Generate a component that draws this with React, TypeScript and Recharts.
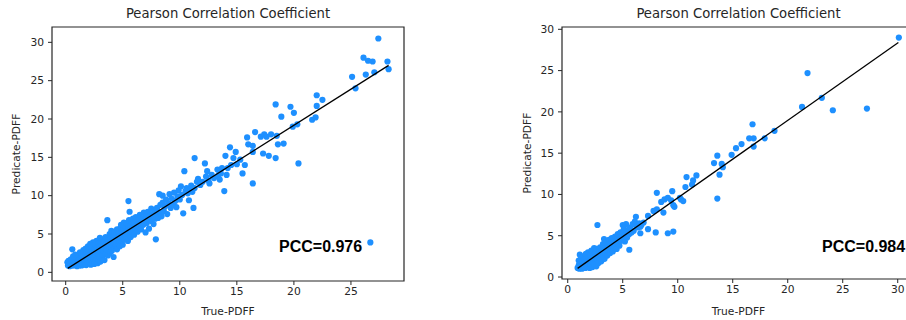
import { ScatterChart, Scatter, XAxis, YAxis, ReferenceArea } from 'recharts'

// left panel: [True-PDFF, Predicate-PDFF]
const leftPoints: [number, number][] = [
  [0.2, 0.9], [0.3, 1.2], [0.35, 0.8], [0.4, 1.0], [0.5, 1.3], [0.55, 0.9], [0.6, 1.1], [0.58, 3.0],
  [0.7, 1.5], [0.7, 0.9], [0.8, 1.2], [0.8, 1.8], [0.9, 1.0], [0.9, 1.4], [1.0, 2.0], [1.0, 1.2],
  [1.0, 0.8], [0.15, 1.3], [0.25, 1.5], [0.45, 1.7], [0.65, 2.1], [0.85, 2.3],
  [1.1, 1.5], [1.1, 1.0], [1.15, 2.2], [1.2, 0.9], [1.2, 1.7], [1.25, 2.6], [1.3, 1.2], [1.35, 1.9],
  [1.4, 0.9], [1.4, 2.4], [1.45, 1.4], [1.5, 1.1], [1.5, 2.0], [1.55, 2.9], [1.6, 1.6], [1.65, 1.0],
  [1.7, 2.3], [1.7, 1.3], [1.75, 3.1], [1.8, 1.8], [1.8, 0.95], [1.85, 2.6], [1.9, 1.4], [1.9, 2.1],
  [1.95, 3.4], [2.0, 1.1], [2.0, 1.7], [2.0, 2.5],
  [2.05, 3.0], [2.1, 1.3], [2.1, 2.0], [2.15, 3.7], [2.2, 2.4], [2.2, 1.0], [2.25, 1.6], [2.3, 2.8],
  [2.3, 3.3], [2.35, 1.2], [2.4, 2.1], [2.4, 3.9], [2.45, 1.7], [2.5, 2.6], [2.5, 1.1], [2.55, 3.0],
  [2.6, 2.2], [2.6, 3.6], [2.65, 1.5], [2.7, 2.8], [2.7, 4.1], [2.75, 1.9], [2.8, 3.3], [2.8, 1.2],
  [2.85, 2.4], [2.9, 3.8], [2.9, 1.6], [2.95, 2.9], [3.0, 2.0], [3.0, 3.4], [3.0, 4.5],
  [3.05, 1.4], [3.1, 2.6], [3.1, 3.9], [3.15, 3.0], [3.2, 1.8], [3.2, 4.3], [3.25, 2.3], [3.3, 3.5],
  [3.35, 2.8], [3.4, 4.0], [3.4, 1.6], [3.45, 3.1], [3.5, 2.4], [3.5, 4.6], [3.55, 3.7], [3.6, 2.9],
  [3.65, 6.8], [3.7, 3.4], [3.7, 2.2], [3.75, 4.2], [3.8, 3.0], [3.85, 5.0], [3.9, 3.7], [3.9, 2.6],
  [3.95, 4.4], [4.0, 3.3], [4.0, 5.4],
  [4.05, 2.8], [4.1, 4.0], [4.15, 3.6], [4.2, 2.0], [4.2, 4.7], [4.25, 3.2], [4.3, 5.3], [4.35, 4.2],
  [4.4, 3.5], [4.45, 4.9], [4.5, 3.0], [4.5, 5.6], [4.55, 4.4], [4.6, 3.8], [4.65, 5.1], [4.7, 4.1],
  [4.75, 3.4], [4.8, 5.8], [4.8, 4.6], [4.85, 6.2], [4.9, 4.0], [4.95, 5.3], [5.0, 4.7], [5.0, 3.6],
  [5.05, 5.5], [5.1, 6.5], [5.15, 4.3], [5.2, 5.0], [5.25, 5.9], [5.3, 4.6], [5.35, 6.3], [5.4, 5.3],
  [5.45, 4.1], [5.5, 9.3], [5.5, 5.8], [5.55, 6.8], [5.6, 5.0], [5.6, 7.9], [5.65, 6.1], [5.7, 4.6],
  [5.75, 5.6], [5.8, 6.6], [5.85, 5.2], [5.9, 7.0], [5.95, 6.0], [6.0, 4.9], [6.0, 6.4],
  [6.1, 5.6], [6.15, 7.2], [6.2, 6.1], [6.3, 5.3], [6.35, 6.8], [6.4, 5.9], [6.5, 7.5], [6.5, 6.3],
  [6.6, 5.6], [6.7, 7.0], [6.8, 6.2], [6.85, 7.8], [6.9, 6.7], [7.0, 5.2], [7.0, 7.3],
  [7.1, 6.4], [7.2, 7.9], [7.25, 6.9], [7.3, 5.7], [7.4, 7.3], [7.5, 8.3], [7.5, 6.7], [7.6, 7.6],
  [7.7, 6.3], [7.8, 8.1], [7.85, 7.0], [7.9, 4.3], [7.9, 7.5], [8.0, 8.4],
  [8.1, 7.1], [8.2, 10.2], [8.25, 7.8], [8.3, 8.8], [8.4, 7.3], [8.5, 9.1], [8.5, 10.0], [8.6, 8.0],
  [8.7, 8.6], [8.8, 9.5], [8.9, 7.6], [9.0, 9.0], [9.1, 10.2], [9.2, 8.4], [9.3, 9.6], [9.4, 8.8],
  [9.5, 10.4], [9.6, 9.3], [9.7, 8.5], [9.8, 9.9], [9.9, 10.7], [10.0, 9.5], [10.1, 11.2], [10.2, 10.1],
  [10.3, 7.7], [10.4, 13.2],
  [10.5, 10.6], [10.6, 11.0], [10.7, 10.3], [10.8, 9.4], [10.9, 10.9], [11.0, 11.3], [11.1, 10.5],
  [11.2, 8.4], [11.3, 11.0], [11.3, 14.9], [11.5, 11.8], [11.6, 12.2], [11.8, 11.4], [12.0, 11.8],
  [12.2, 14.2], [12.3, 12.5], [12.4, 13.2], [12.5, 12.0], [12.6, 11.6], [12.8, 12.7],
  [13.0, 12.3], [13.3, 13.4], [13.35, 12.6], [13.5, 13.1], [13.6, 12.9], [13.5, 12.1], [13.7, 13.6],
  [13.9, 10.6], [14.0, 15.2], [14.1, 12.7], [14.2, 13.6], [14.4, 16.3], [14.5, 14.0], [14.7, 14.9],
  [14.9, 15.7], [15.0, 14.1], [15.3, 14.7], [15.5, 12.9], [15.7, 14.0],
  [15.9, 17.6], [16.0, 16.7], [16.4, 16.5], [16.4, 15.7], [16.4, 11.6], [16.6, 18.3], [17.1, 17.7],
  [17.3, 15.5], [17.4, 18.0], [17.6, 17.7], [17.8, 15.2], [18.0, 18.0], [18.4, 14.9], [18.4, 21.9],
  [18.5, 17.8], [18.6, 16.7], [18.9, 20.3], [19.1, 16.8], [19.7, 21.6], [19.9, 19.0], [20.0, 20.8],
  [20.3, 19.3], [20.4, 14.2], [21.6, 19.9], [21.9, 20.2], [22.0, 21.7], [22.0, 23.1], [22.5, 22.5],
  [25.1, 25.5], [25.4, 24.0], [26.1, 28.0], [26.3, 25.8], [26.5, 27.6], [26.7, 3.9], [26.9, 27.5],
  [27.05, 26.1], [27.4, 30.5], [28.2, 27.5], [28.3, 26.5],
]

// right panel: [True-PDFF, Predicate-PDFF]
const rightPoints: [number, number][] = [
  [0.9, 1.1], [1.0, 1.4], [1.0, 2.0], [1.05, 1.0], [1.1, 1.7], [1.1, 2.7], [1.15, 1.2], [1.2, 2.2],
  [1.25, 1.5], [1.3, 1.0], [1.35, 1.9], [1.4, 2.5], [1.45, 1.3], [1.5, 1.7], [1.55, 2.2], [1.6, 1.1],
  [1.65, 2.8], [1.7, 1.5], [1.75, 2.0], [1.8, 1.2], [1.85, 3.0], [1.9, 2.4], [1.95, 1.6], [2.0, 1.1],
  [2.0, 2.0], [2.05, 2.7], [2.1, 1.4], [2.15, 3.2], [2.2, 2.2], [2.25, 1.2], [2.3, 1.8], [2.35, 2.6],
  [2.4, 3.5], [2.45, 1.5], [2.5, 2.3], [2.55, 2.9], [2.6, 1.3], [2.65, 3.4], [2.7, 2.0], [2.7, 6.3],
  [2.75, 2.6], [2.8, 1.7], [2.85, 3.1], [2.9, 2.3], [2.95, 3.6], [3.0, 2.8], [3.05, 1.9], [3.1, 3.3],
  [3.15, 2.5], [3.2, 4.0], [3.25, 3.0], [3.3, 4.6], [3.35, 2.2], [3.4, 3.5], [3.45, 2.8], [3.5, 4.2],
  [3.55, 3.3], [3.6, 2.6], [3.65, 3.9], [3.7, 3.1], [3.75, 4.5], [3.8, 3.6], [3.85, 2.9], [3.9, 4.1],
  [3.95, 3.4], [4.0, 4.7], [4.05, 3.8], [4.1, 3.1], [4.2, 4.3], [4.25, 3.6], [4.3, 4.9], [4.4, 4.0],
  [4.45, 3.4], [4.5, 4.6], [4.55, 5.2], [4.6, 4.2], [4.7, 3.8], [4.75, 4.8], [4.8, 5.4], [4.85, 4.4],
  [4.9, 4.9], [5.0, 6.3], [5.0, 5.3], [5.05, 4.6], [5.1, 5.8], [5.15, 4.9], [5.2, 4.3], [5.3, 6.4],
  [5.3, 5.3], [5.4, 4.8], [5.5, 5.7], [5.6, 3.3], [5.6, 5.2], [5.7, 6.0], [5.8, 5.4], [5.9, 6.4],
  [6.0, 5.6], [6.1, 6.7], [6.2, 7.3], [6.3, 6.1], [6.4, 6.0], [6.5, 6.5], [6.6, 5.3], [6.6, 6.1],
  [6.7, 6.3], [6.9, 6.6], [7.3, 7.4], [7.3, 5.8], [7.8, 8.0], [8.0, 5.4], [8.1, 8.2], [8.1, 10.2],
  [8.5, 9.1], [8.7, 7.8], [8.8, 9.4], [9.1, 9.6], [9.1, 5.3], [9.4, 9.3], [9.5, 10.4], [9.6, 8.7],
  [9.6, 5.5], [9.7, 8.5], [10.2, 9.6], [10.3, 9.4], [10.5, 9.2], [10.7, 10.9], [10.8, 12.1],
  [11.3, 11.2], [11.4, 11.7], [11.7, 12.3], [13.3, 13.8], [13.6, 14.7], [13.6, 9.5], [13.8, 12.4],
  [14.0, 13.7], [14.1, 13.3], [14.9, 14.8], [15.3, 15.6], [15.8, 16.1], [16.5, 16.8], [16.8, 18.5],
  [16.9, 16.8], [16.9, 15.8], [17.9, 16.8], [18.8, 17.7], [21.3, 20.6], [21.8, 24.7], [23.1, 21.7],
  [24.1, 20.2], [27.2, 20.4], [30.1, 29.0],
]

// fitted line end points
const leftFit: [number, number][] = [[0.18, 0.52], [28.3, 27.0]]
const rightFit: [number, number][] = [[0.9, 1.05], [30.06, 28.4]]

const leftTicksX = [0, 5, 10, 15, 20, 25]
const rightTicksX = [0, 5, 10, 15, 20, 25, 30]
const ticksY = [0, 5, 10, 15, 20, 25, 30]

const leftPcc = 'PCC=0.976'
const rightPcc = 'PCC=0.984'
const titleText = 'Pearson Correlation Coefficient'

const dotColor = '#1E90FF'
const ink = '#262626'
const font = '"DejaVu Sans", sans-serif'

interface PanelProps {
  points: [number, number][]
  fit: [number, number][]
  xDomain: [number, number]
  yDomain: [number, number]
  xTicks: number[]
  left: number
  width: number
  marginRight: number
  yAxisWidth: number
  xAxisHeight: number
  yLabelOffset: number
  pcc: string
  pccX: number
}

const Dot = (p: any) => <circle cx={p.cx} cy={p.cy} r={3.1} fill={dotColor} />
const NoDot = () => <g />

function Panel(props: PanelProps) {
  const { points, fit, xDomain, yDomain, xTicks, left, width, marginRight, yAxisWidth, xAxisHeight, yLabelOffset, pcc, pccX } = props
  const data = points.map(([x, y]) => ({ x, y }))
  const fitData = fit.map(([x, y]) => ({ x, y }))
  const plotLeft = left + yAxisWidth
  const plotWidth = width - yAxisWidth - marginRight

  return (
    <>
      <div
        style={{
          position: 'absolute', left: plotLeft, top: 7, width: plotWidth, textAlign: 'center',
          fontFamily: font, fontSize: 13.2, lineHeight: '14px', color: ink, whiteSpace: 'nowrap'
        }}
      >
        {titleText}
      </div>
      <div style={{ position: 'absolute', left, top: 0 }}>
        <ScatterChart width={width} height={320} margin={{ top: 27, right: marginRight, bottom: 0, left: 0 }}>
          <XAxis
            dataKey="x"
            type="number"
            domain={xDomain}
            ticks={xTicks}
            interval={0}
            allowDataOverflow
            axisLine={false}
            tickLine={{ stroke: ink }}
            tickSize={4}
            tickMargin={2}
            height={xAxisHeight}
            tick={{ fontSize: 10.7, fill: ink, fontFamily: font }}
            label={{ value: 'True-PDFF', position: 'insideBottom', offset: 5, fontSize: 10.7, fill: ink, fontFamily: font }}
          />
          <YAxis
            dataKey="y"
            type="number"
            domain={yDomain}
            ticks={ticksY}
            interval={0}
            allowDataOverflow
            axisLine={false}
            tickLine={{ stroke: ink }}
            tickSize={4}
            tickMargin={4}
            width={yAxisWidth}
            tick={{ fontSize: 10.7, fill: ink, fontFamily: font }}
            label={{
              value: 'Predicate-PDFF', angle: -90, position: 'insideLeft', offset: yLabelOffset,
              fontSize: 10.7, fill: ink, fontFamily: font, style: { textAnchor: 'middle' }
            }}
          />
          <Scatter data={data} fill={dotColor} shape={Dot} isAnimationActive={false} />
          {/* fitted line drawn after the dots so it sits on top */}
          <Scatter
            data={fitData}
            shape={NoDot}
            line={{ stroke: '#000', strokeWidth: 1.3 }}
            isAnimationActive={false}
          />
          <ReferenceArea
            x1={xDomain[0]} x2={xDomain[1]} y1={yDomain[0]} y2={yDomain[1]}
            fill="none" fillOpacity={0} stroke={ink} strokeWidth={1.2} ifOverflow="visible"
          />
        </ScatterChart>
      </div>
      <div
        style={{
          position: 'absolute', left: pccX, top: 239, fontFamily: '"Liberation Sans", Arial, sans-serif',
          fontWeight: 'bold', fontSize: 16, lineHeight: '16px', color: '#000', whiteSpace: 'nowrap'
        }}
      >
        {pcc}
      </div>
    </>
  )
}

export default function App() {
  return (
    <div style={{ position: 'absolute', left: 0, top: 0, width: 906, height: 320, overflow: 'hidden', background: '#fff' }}>
      <Panel
        points={leftPoints}
        fit={leftFit}
        xDomain={[-1.2, 29.65]}
        yDomain={[-1.13, 32.0]}
        xTicks={leftTicksX}
        left={0}
        width={420}
        marginRight={16}
        yAxisWidth={52}
        xAxisHeight={39}
        yLabelOffset={16}
        pcc={leftPcc}
        pccX={279}
      />
      <Panel
        points={rightPoints}
        fit={rightFit}
        xDomain={[-0.52, 31.57]}
        yDomain={[-0.24, 30.28]}
        xTicks={rightTicksX}
        left={480}
        width={440}
        marginRight={5}
        yAxisWidth={82}
        xAxisHeight={41}
        yLabelOffset={47}
        pcc={rightPcc}
        pccX={822}
      />
    </div>
  )
}
